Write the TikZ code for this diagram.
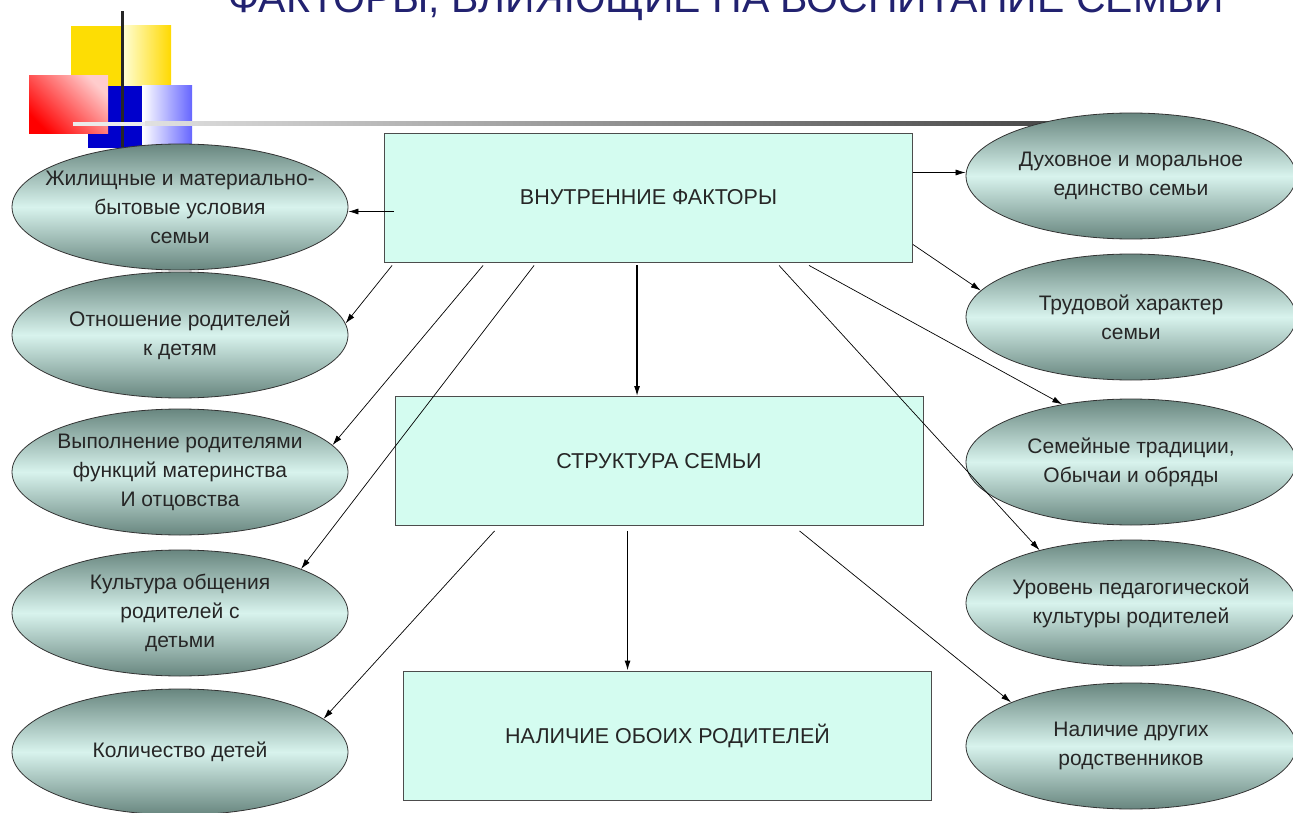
\documentclass[tikz,border=0pt]{standalone}
\usepackage{fontspec}
\setmainfont{Liberation Sans}
\usetikzlibrary{shapes.geometric, arrows.meta, calc}

\definecolor{boxfill}{RGB}{212,252,240}
\definecolor{ovaldark}{RGB}{104,134,127}
\definecolor{ovallight}{RGB}{216,243,237}
\definecolor{titleblue}{RGB}{34,34,112}

\begin{document}
\begin{tikzpicture}[x=1pt, y=-1pt,
    factor/.style={ellipse, draw=black!80, line width=0.8pt, top color=ovaldark, bottom color=ovaldark, middle color=ovallight,
        minimum width=336pt, minimum height=126pt, inner xsep=-40pt, inner ysep=0pt, align=center, text=black!85,
        font=\fontsize{21}{29}\selectfont},
    factbox/.style={draw=black!70, line width=0.9pt, fill=boxfill, minimum width=528pt, minimum height=129pt,
        text=black!85, font=\fontsize{21.5}{24}\selectfont},
    link/.style={-{Latex[length=10pt,width=6pt]}, line width=0.7pt},
    mainlink/.style={link, line width=1.2pt}]
        \useasboundingbox (0,0) rectangle (1293,813);
        \clip (0,0) rectangle (1293,813);

        % Title (cut at the top edge)
        \node[anchor=base, text=titleblue, font=\fontsize{41}{41}\selectfont] (title) at (726,13) {ФАКТОРЫ, ВЛИЯЮЩИЕ НА ВОСПИТАНИЕ СЕМЬИ};

        % Corner squares
        \fill[yellow!80!orange] (71,26) rectangle (122,115);
        \shade[left color=yellow!15, right color=yellow!70!orange] (122,26) rectangle (171,115);
        \fill[blue!80!black] (88,86) rectangle (142,148);
        \shade[left color=white, right color=blue!60] (142,86) rectangle (192,148);
        \shade[top color=red!20, bottom color=red, shading angle=-45] (29,76) rectangle (108,134);
        \fill[black!85] (120.5,11) rectangle (123.5,147);
        \fill[black!8] (73,122) rectangle (145,126);
        \shade[left color=black!12, right color=black!75] (145,122) rectangle (1100,126);

        % Inner factors and family structure
        \node[factbox] (inner) at (648.5,197.5) {ВНУТРЕННИЕ ФАКТОРЫ};
        \node[factbox] (struct) at (659,461) {СТРУКТУРА СЕМЬИ};
        \node[factbox] (both) at (667.5,735.5) {НАЛИЧИЕ ОБОИХ РОДИТЕЛЕЙ};

        % Left column
        \node[factor] (L1) at (180,207) {Жилищные и материально-\\бытовые условия\\семьи};
        \node[factor] (L2) at (180,335) {Отношение родителей\\к детям};
        \node[factor] (L3) at (180,472) {Выполнение родителями\\функций материнства\\И отцовства};
        \node[factor] (L4) at (180,613) {Культура общения\\родителей с\\детьми};
        \node[factor] (L5) at (180,752) {Количество детей};

        % Right column
        \node[factor, minimum width=330pt] (R1) at (1131,176) {Духовное и моральное\\единство семьи};
        \node[factor, minimum width=330pt] (R2) at (1131,317) {Трудовой характер\\семьи};
        \node[factor, minimum width=330pt] (R3) at (1131,462) {Семейные традиции,\\Обычаи и обряды};
        \node[factor, minimum width=330pt] (R4) at (1131,603) {Уровень педагогической\\культуры родителей};
        \node[factor, minimum width=330pt] (R5) at (1131,746) {Наличие других\\родственников};

        % Arrows from the inner factors
        \coordinate (a1) at ($(inner.west)+(10,14)$);
        \draw[link] (a1) -- (a1 -| L1.east);
        \draw[link] ($(inner.south west)+(8,3)$) -- (L2.4);
        \draw[link] ($(inner.south west)+(99,3)$) -- (L3.10);
        \draw[link] ($(inner.south west)+(150,3)$) -- (L4.20);
        \coordinate (d1) at ($(inner.south west)+(253,3)$);
        \draw[mainlink] (d1) -- (d1 |- struct.north);
        \draw[link] ($(inner.south west)+(395,3)$) -- (R4.150);
        \draw[link] ($(inner.south west)+(425,3)$) -- (R3.140);
        \draw[link] ($(inner.east)+(0,47)$) -- (R2.170);
        \coordinate (a2) at ($(inner.east)+(0,-25)$);
        \draw[link] (a2) -- (a2 -| R1.west);

        % Arrows from the family structure
        \draw[link] ($(struct.south west)+(100,5)$) -- (L5.13);
        \coordinate (d2) at ($(struct.south west)+(233,5)$);
        \draw[mainlink] (d2) -- (d2 |- both.north);
        \draw[link] ($(struct.south west)+(405,5)$) -- (R5.160);
\end{tikzpicture}
\end{document}
